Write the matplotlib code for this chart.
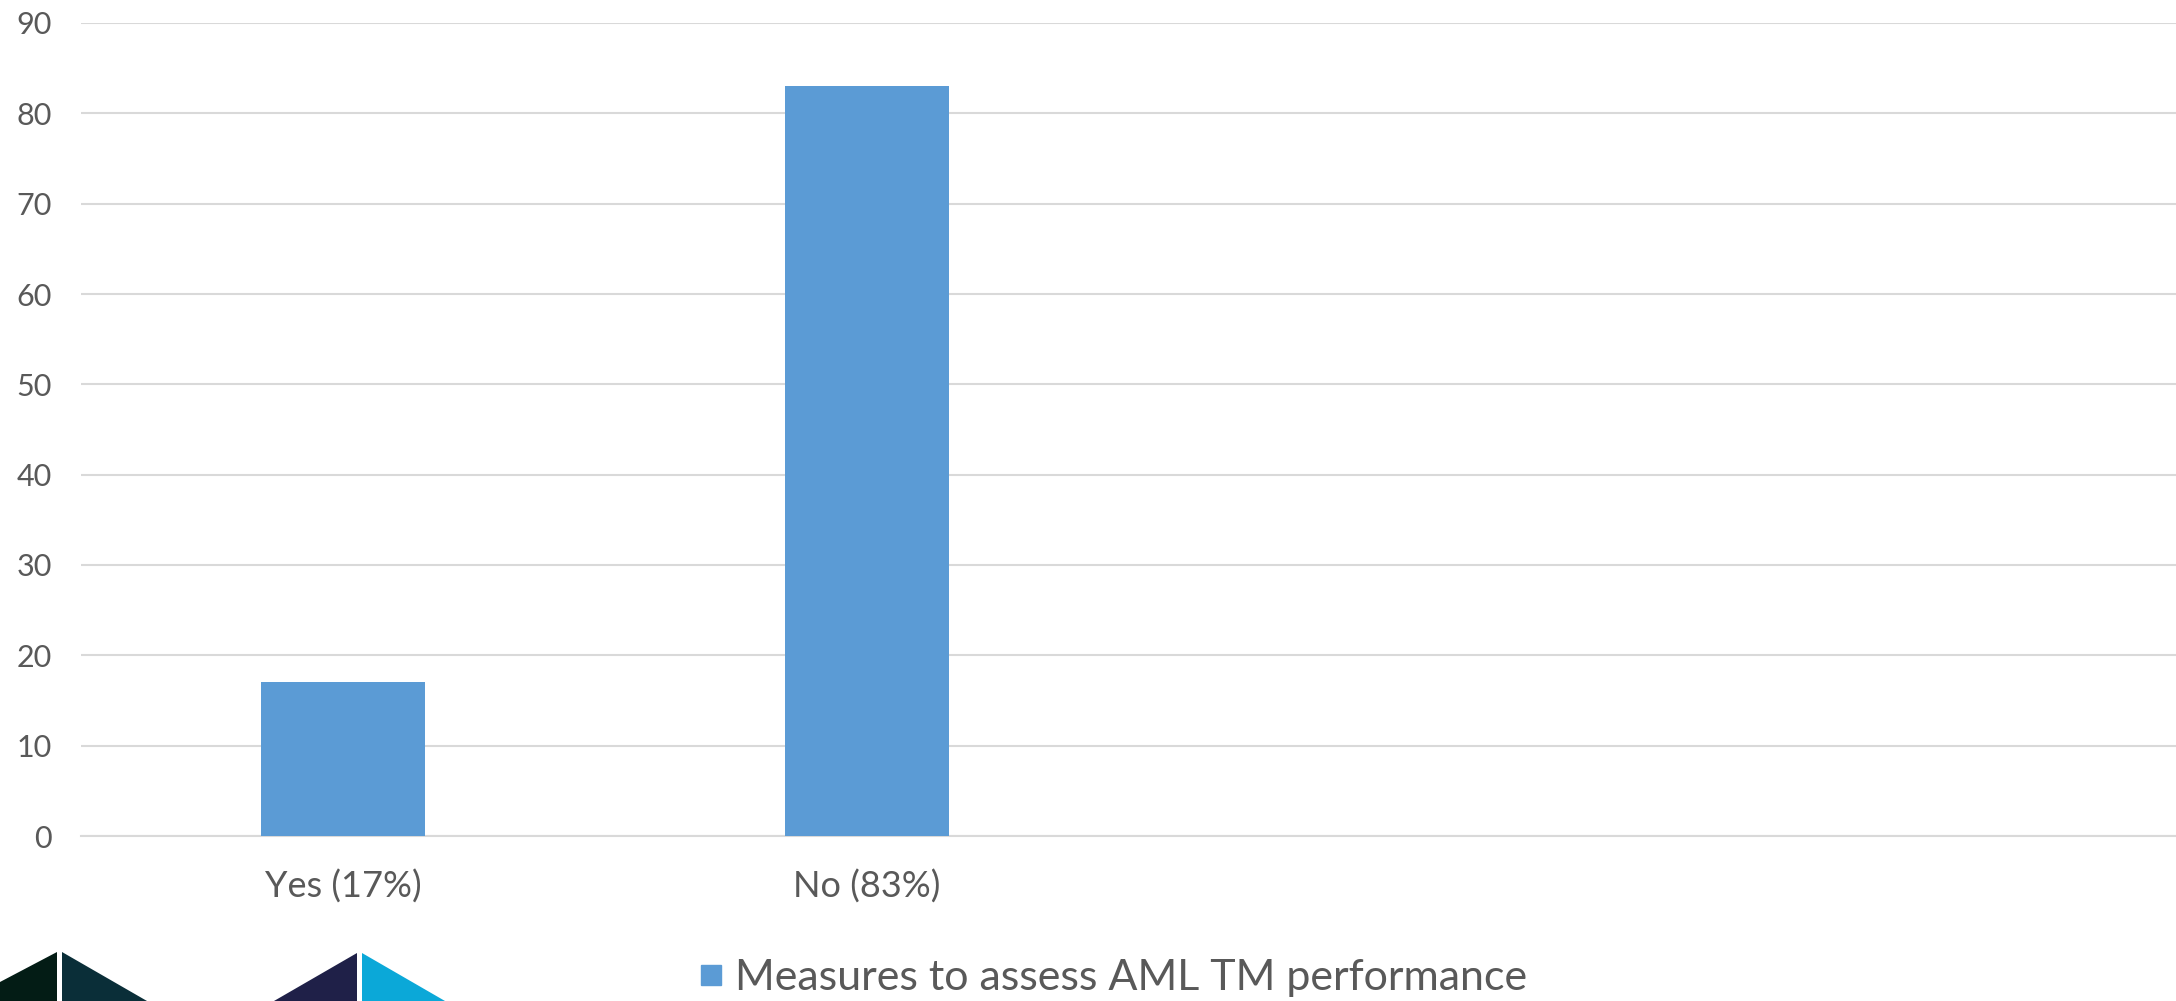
import matplotlib
matplotlib.use("Agg")
import matplotlib.pyplot as plt
from matplotlib.patches import Polygon
from matplotlib.lines import Line2D

categories = ["Yes (17%)", "No (83%)", "", ""]
values = [17, 83, None, None]
series_name = "Measures to assess AML TM performance"
yticks = [0, 10, 20, 30, 40, 50, 60, 70, 80, 90]

BAR_COLOR = "#5b9bd5"
TEXT_COLOR = "#595959"
GRID_COLOR = "#d9d9d9"

plt.rcParams["font.family"] = ["Lato", "DejaVu Sans"]

W, H, DPI = 2176, 1001, 100
fig = plt.figure(figsize=(W / DPI, H / DPI), dpi=DPI)
ax = fig.add_axes([81 / W, 165 / H, 1 - 81 / W, (836 - 23) / H])

xs = list(range(len(categories)))
bx = [x for x, v in zip(xs, values) if v is not None]
bv = [v for v in values if v is not None]
ax.bar(bx, bv, width=0.313, color=BAR_COLOR, zorder=3)

ax.set_xlim(-0.5, len(categories) - 0.5)
ax.set_ylim(0, 90)
ax.set_yticks(yticks)
ax.set_xticks(xs)
ax.set_xticklabels(categories)
ax.yaxis.grid(True, color=GRID_COLOR, linewidth=1.5, zorder=0)
ax.set_axisbelow(True)
for s in ["top", "right", "left"]:
    ax.spines[s].set_visible(False)
ax.spines["bottom"].set_color(GRID_COLOR)
ax.spines["bottom"].set_linewidth(1.5)
ax.tick_params(axis="y", length=0, pad=21, labelsize=22, labelcolor=TEXT_COLOR)
ax.tick_params(axis="x", length=0, pad=24, labelsize=26, labelcolor=TEXT_COLOR)

handle = Line2D([], [], marker="s", linestyle="none", markersize=15,
                markerfacecolor=BAR_COLOR, markeredgecolor=BAR_COLOR)
fig.legend([handle], [series_name], loc="center", bbox_to_anchor=(1108 / W, 1 - 978 / H),
           frameon=False, labelcolor=TEXT_COLOR, handletextpad=0.05, handlelength=1.0,
           prop={"size": 31})

# Logo fragments along the bottom-left edge
def tri(pts, color):
    p = Polygon([(x / DPI, (H - y) / DPI) for x, y in pts], closed=True,
                transform=fig.dpi_scale_trans, facecolor=color, edgecolor="none")
    fig.patches.append(p)

tri([(0, 982), (57, 952), (57, 1001), (0, 1001)], "#031c15")
tri([(62, 952), (147, 1001), (62, 1001)], "#0a2e38")
tri([(274, 1001), (357, 953), (357, 1001)], "#1f2048")
tri([(362, 953), (445, 1001), (362, 1001)], "#0ba8d8")

fig.savefig("out.png", dpi=DPI, facecolor="white")
